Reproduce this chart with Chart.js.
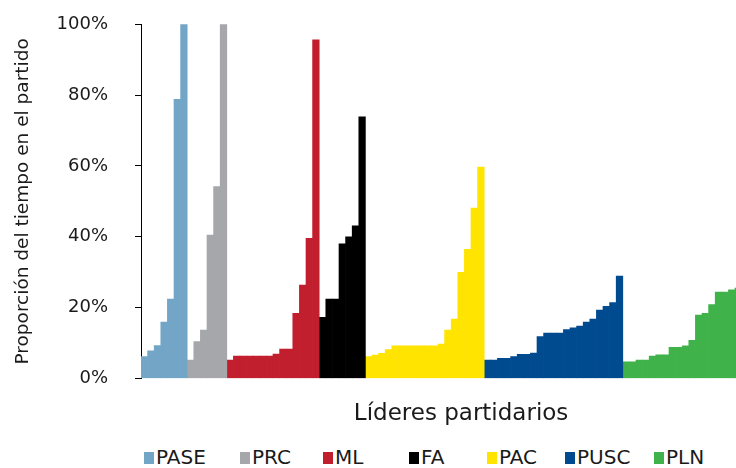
<!DOCTYPE html>
<html><head><meta charset="utf-8">
<script src="https://cdn.jsdelivr.net/npm/chart.js@4.4.1/dist/chart.umd.min.js"></script>
<style>
html,body{margin:0;padding:0;background:#fff;overflow:hidden;width:736px;height:468px;position:relative;}
#wrap{position:absolute;left:0;top:0;width:790px;height:440px;}
#legend{position:absolute;left:0;top:445px;width:736px;height:24px;font-family:"DejaVu Sans",sans-serif;font-size:20px;line-height:24px;color:#1a1a1a;white-space:nowrap;}
.item{position:absolute;top:0;}
.sw{display:inline-block;width:10px;height:12px;vertical-align:baseline;margin-right:2px;}
</style></head><body>
<div id="wrap"><canvas id="c" width="790" height="440"></canvas></div>
<div id="legend"></div>
<script>
// ---- data ----
const parties = ['PASE', 'PRC', 'ML', 'FA', 'PAC', 'PUSC', 'PLN'];
const partyColors = ['#73A6C6', '#A6A7AB', '#C11E2E', '#000000', '#FFE400', '#004A8F', '#40B24A'];

const PASE = [6.2, 7.8, 9.3, 15.9, 22.4, 78.8, 100];
const PRC  = [5.2, 10.4, 13.7, 40.5, 54.2, 100];
const ML   = [5.2, 6.3, 6.3, 6.3, 6.3, 6.3, 6.3, 6.9, 8.3, 8.3, 18.4, 26.4, 39.6, 95.6];
const FA   = [17.3, 22.4, 22.4, 38.0, 40.0, 43.1, 73.9];
const PAC  = [6.2, 6.6, 7.1, 8.2, 9.2, 9.2, 9.2, 9.2, 9.2, 9.2, 9.2, 9.7, 13.7, 16.8, 30.0, 36.5, 48.1, 59.7];
const PUSC = [5.2, 5.2, 5.7, 5.7, 6.2, 6.8, 6.8, 7.2, 11.8, 12.8, 12.8, 12.8, 13.8, 14.3, 14.8, 15.9, 16.8, 19.3, 20.4, 21.4, 28.9];
const PLN  = [4.7, 4.7, 5.2, 5.2, 6.3, 6.7, 6.7, 8.8, 8.8, 9.2, 10.8, 17.9, 18.4, 20.9, 24.4, 24.4, 25.0, 25.5];

const yTickValues = [0, 20, 40, 60, 80, 100];
const yTitle = 'Proporción del tiempo en el partido';
const xTitle = 'Líderes partidarios';
// the reference is cropped on the right; the category axis continues past the visible edge
const hiddenSlots = 6;

// ---- layout / style (not data) ----
const legendLeft = [144, 240, 323, 409, 487, 565, 654];
const FONT = '"DejaVu Sans", sans-serif';
const TXT = '#1a1a1a';

// ---- build ----
const seriesValues = [PASE, PRC, ML, FA, PAC, PUSC, PLN];
const visibleCount = seriesValues.reduce((a, s) => a + s.length, 0);
const totalSlots = visibleCount + hiddenSlots;
const labels = Array.from({length: totalSlots}, (_, i) => String(i + 1));

let start = 0;
const datasets = seriesValues.map((vals, i) => {
  const data = new Array(totalSlots).fill(null);
  vals.forEach((v, j) => { data[start + j] = v; });
  start += vals.length;
  return {
    label: parties[i],
    data,
    backgroundColor: partyColors[i],
    borderWidth: 0,
    barPercentage: 1,
    categoryPercentage: 1,
    grouped: false
  };
});

new Chart(document.getElementById('c'), {
  type: 'bar',
  data: { labels, datasets },
  options: {
    responsive: false,
    animation: false,
    devicePixelRatio: 1,
    layout: { padding: { top: 24.3, right: 8.8, bottom: 12.5, left: 0 } },
    plugins: { legend: { display: false }, tooltip: { enabled: false } },
    scales: {
      x: {
        type: 'category',
        offset: true,
        grid: { display: false, drawTicks: false },
        border: { display: false },
        ticks: { display: false },
        title: { display: true, text: xTitle, color: TXT, font: { family: FONT, size: 23 }, padding: { top: 21.4, bottom: 0 } }
      },
      y: {
        min: 0, max: 100,
        afterFit: s => { s.width = 141; s.paddingTop = 0; s.paddingBottom = 0; },
        afterBuildTicks: s => { s.ticks = yTickValues.map(v => ({ value: v })); },
        grid: { drawOnChartArea: false, drawTicks: true, tickLength: 6, color: '#000', lineWidth: 1 },
        border: { display: true, color: '#000', width: 1 },
        ticks: { color: TXT, font: { family: FONT, size: 18 }, padding: 27, callback: v => v + '%' },
        title: { display: true, text: yTitle, color: TXT, font: { family: FONT, size: 18.5 }, padding: { top: 12, bottom: 0 } }
      }
    }
  }
});

// legend
const lg = document.getElementById('legend');
parties.forEach((p, i) => {
  const it = document.createElement('span');
  it.className = 'item';
  it.style.left = legendLeft[i] + 'px';
  const sw = document.createElement('span');
  sw.className = 'sw';
  sw.style.background = partyColors[i];
  it.appendChild(sw);
  it.appendChild(document.createTextNode(p));
  lg.appendChild(it);
});
</script>
</body></html>
